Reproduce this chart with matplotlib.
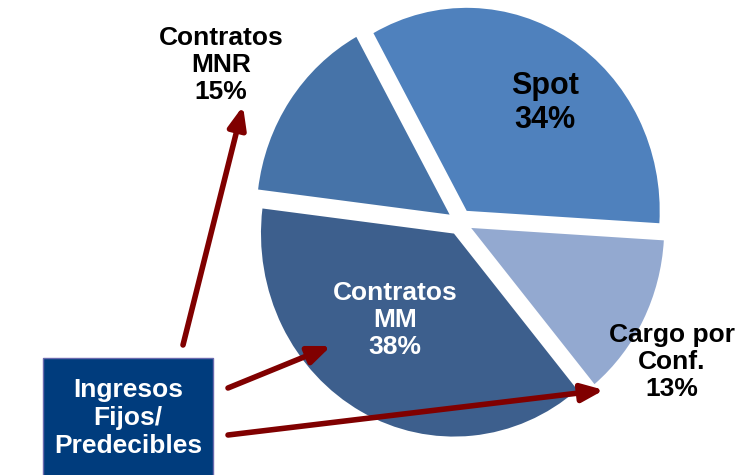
import matplotlib.pyplot as plt
from matplotlib.patches import Rectangle, FancyArrowPatch

# data
segments = ['Spot', 'Contratos\nMNR', 'Contratos\nMM', 'Cargo por\nConf.']
shares = [34, 15, 38, 13]
colors = ['#4F81BD', '#4673A8', '#3D5F8D', '#93A9D0']
label_colors = ['black', 'black', 'white', 'black']
box_text = 'Ingresos\nFijos/\nPredecibles'

plt.rcParams['font.family'] = ['Liberation Sans', 'DejaVu Sans']
plt.rcParams['font.weight'] = 'bold'

fig = plt.figure(figsize=(7.38, 4.75), dpi=100)

# pie axes (slightly narrower than tall, like the original)
W, H = 738, 475
cx, cy = 460, 222
ux, uy = 193, 203
lim = 1.25
ax = fig.add_axes([(cx - lim * ux) / W, (H - cy - lim * uy) / H,
                   2 * lim * ux / W, 2 * lim * uy / H])
ax.pie(shares, colors=colors, startangle=-3.5, counterclock=True,
       explode=[0.065] * len(shares), wedgeprops=dict(linewidth=0))
ax.set_aspect('auto')
ax.set_xlim(-lim, lim)
ax.set_ylim(-lim, lim)
ax.axis('off')

# overlay in pixel coordinates for labels, box and arrows
ov = fig.add_axes([0, 0, 1, 1], zorder=5)
ov.set_xlim(0, W)
ov.set_ylim(H, 0)
ov.axis('off')
ov.patch.set_alpha(0)

label_pos = [(545, 103), (221, 65), (395, 320), (672, 362)]
label_size = [22, 19, 19, 19]
for name, val, (x, y), c, s in zip(segments, shares, label_pos, label_colors, label_size):
    ov.text(x, y, f'{name}\n{val}%', ha='center', va='center', color=c,
            fontsize=s, fontweight='bold', linespacing=1.15)

# box
ov.add_patch(Rectangle((43, 358), 170, 130, facecolor='#003C7D',
                       edgecolor='#6A6AAE', linewidth=1, zorder=3))
ov.text(128, 418, box_text, ha='center', va='center', color='white',
        fontsize=19, fontweight='bold', linespacing=1.2, zorder=4)

# arrows
arrows = [((183, 345), (243, 106)),
          ((228, 388), (331, 346)),
          ((228, 435), (604, 390))]
for tail, tip in arrows:
    ov.add_patch(FancyArrowPatch(tail, tip, arrowstyle='-|>,head_length=1.1,head_width=0.45',
                                 mutation_scale=12, color='#800000', linewidth=4,
                                 shrinkA=0, shrinkB=0, zorder=2))

fig.savefig('out.png', dpi=100)
